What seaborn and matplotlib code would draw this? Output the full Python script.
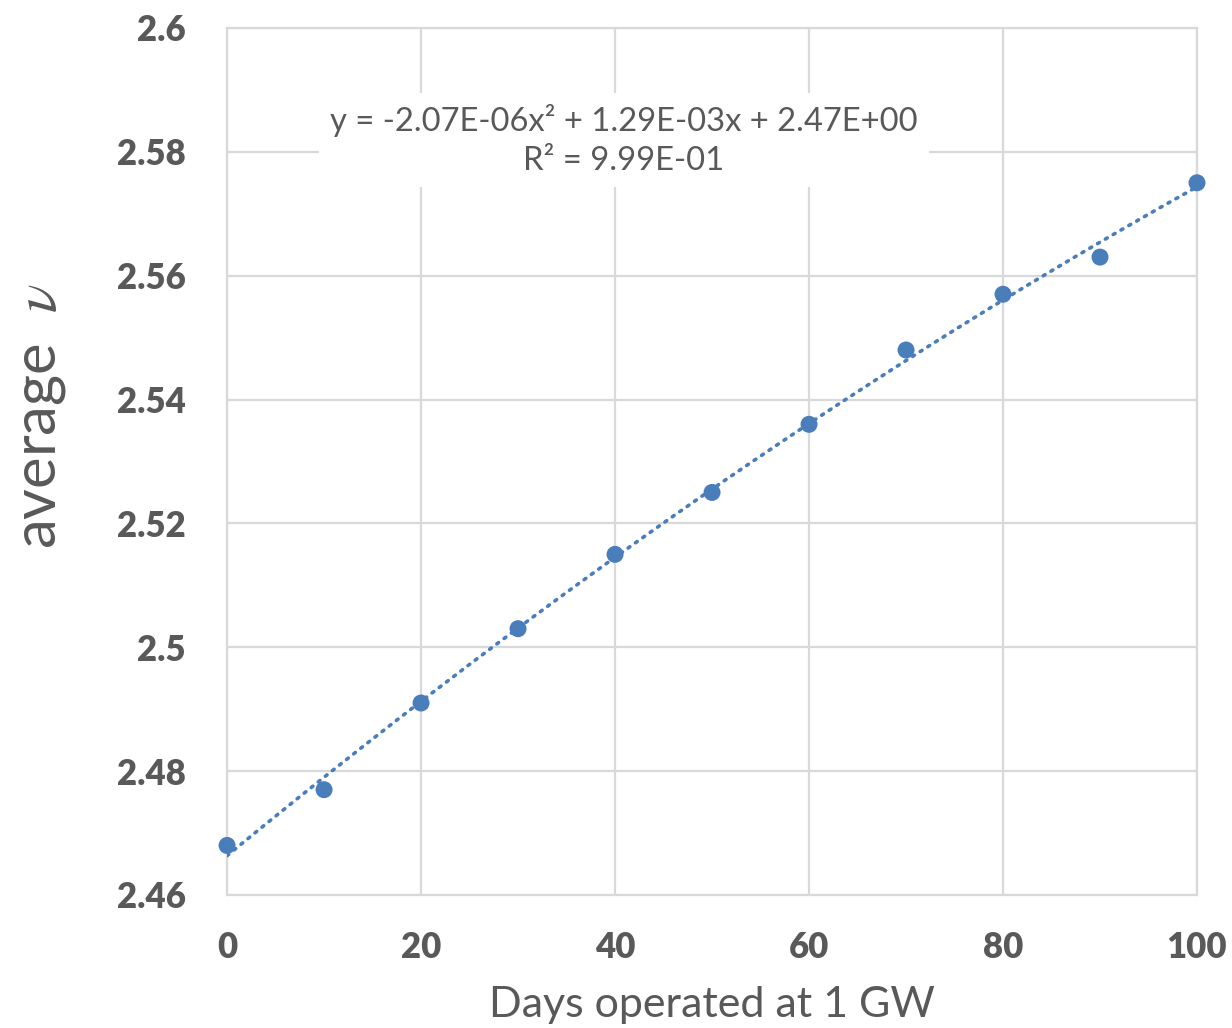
import numpy as np
import pandas as pd
import matplotlib
matplotlib.use("Agg")
import matplotlib.pyplot as plt
import seaborn as sns

# data
days = [0, 10, 20, 30, 40, 50, 60, 70, 80, 90, 100]
avg_nu = [2.468, 2.477, 2.491, 2.503, 2.515, 2.525, 2.536, 2.548, 2.557, 2.563, 2.575]
y_ticks = [2.46, 2.48, 2.5, 2.52, 2.54, 2.56, 2.58, 2.6]
y_tick_labels = ["2.46", "2.48", "2.5", "2.52", "2.54", "2.56", "2.58", "2.6"]
x_ticks = [0, 20, 40, 60, 80, 100]
eq_text = "y = -2.07E-06x\u00b2 + 1.29E-03x + 2.47E+00\nR\u00b2 = 9.99E-01"

blue = "#4a7ebb"
grey = "#595959"
grid_c = "#d9d9d9"

df = pd.DataFrame({"days": days, "nu": avg_nu})

# excel style 2nd order trendline
coef = np.polyfit(df["days"], df["nu"], 2)
xx = np.linspace(0, 100, 200)
trend = pd.DataFrame({"days": xx, "nu": np.polyval(coef, xx)})

sns.set_style("white")
plt.rcParams["font.family"] = ["Lato", "DejaVu Sans"]
plt.rcParams["mathtext.fontset"] = "stix"

fig = plt.figure(figsize=(12.32, 10.28), dpi=100)
ax = fig.add_axes([0.1843, 0.1294, 0.7873, 0.8434])

sns.lineplot(data=trend, x="days", y="nu", ax=ax, color=blue, lw=2.6,
             linestyle=(0, (0.6, 1.9)), dash_capstyle="round", zorder=3)
sns.scatterplot(data=df, x="days", y="nu", ax=ax, color=blue, s=150,
                edgecolor="none", zorder=4, clip_on=False)

ax.set_xlim(0, 100)
ax.set_ylim(2.46, 2.6)
ax.set_xticks(x_ticks)
ax.set_yticks(y_ticks)
ax.set_yticklabels(y_tick_labels)
ax.grid(True, color=grid_c, lw=1.6)
ax.set_axisbelow(True)
for s in ax.spines.values():
    s.set_color(grid_c)
    s.set_linewidth(1.6)

ax.tick_params(axis="both", length=0, labelsize=25, labelcolor=grey)
ax.tick_params(axis="x", pad=26)
ax.tick_params(axis="y", pad=30)
for lab in ax.get_xticklabels() + ax.get_yticklabels():
    lab.set_fontweight("heavy")

ax.set_xlabel("Days operated at 1 GW", fontsize=31, color=grey, labelpad=16)
ax.set_ylabel(r"average  $\nu$", fontsize=43, color=grey)
ax.yaxis.set_label_coords(-0.164, 0.553)

ax.text(40.9, 2.5819, eq_text, ha="center", va="center", fontsize=23.6,
        color=grey, linespacing=1.35, zorder=5,
        bbox=dict(facecolor="white", edgecolor="none", pad=8))

fig.savefig("out.png", dpi=100)
